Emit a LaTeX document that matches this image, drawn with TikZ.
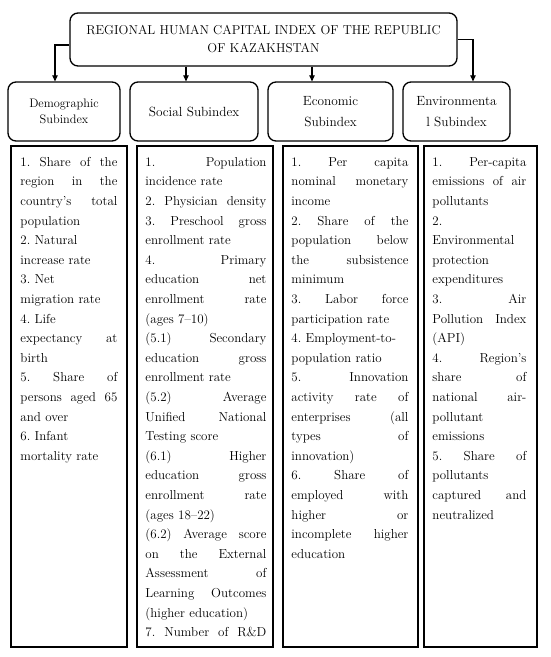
\documentclass[tikz,border=0pt]{standalone}
\usetikzlibrary{arrows.meta}
\setlength{\parindent}{0pt}
\frenchspacing
\newcommand{\jline}[1]{\makebox[\hsize][s]{\frenchspacing\spaceskip=0pt\xspaceskip=0pt\relax #1}\par}
\newcommand{\lline}[1]{#1\par}
\begin{document}
\begin{tikzpicture}[x=1pt,y=-1pt,
  rbox/.style={draw, line width=1.3pt, rounded corners=8pt, inner sep=0pt, align=center},
  cbox/.style={draw, line width=1.5pt, inner sep=0pt},
  arr/.style={line width=1.1pt, -{Triangle[length=6pt,width=5.5pt]}},
  body/.style={inner sep=0pt, anchor=north west, font=\fontsize{13}{19.6}\selectfont\frenchspacing},
  lab/.style={font=\fontsize{13.3}{21}\selectfont}
]
\useasboundingbox (0,0) rectangle (550,657);
\fill[white] (0,0) rectangle (550,657);

% top box
\node[rbox, minimum width=387pt, minimum height=53pt, font=\fontsize{12.9}{18}\selectfont] (top) at (263.5,39.5)
  {REGIONAL HUMAN CAPITAL INDEX OF THE REPUBLIC\\OF KAZAKHSTAN};

% subindex boxes
\node[rbox, minimum width=112pt, minimum height=59pt, font=\fontsize{12.3}{15.5}\selectfont] (b1) at (64,111.5) {Demographic\\Subindex};
\node[rbox, lab, minimum width=128pt, minimum height=59pt] (b2) at (194,111.5) {Social Subindex};
\node[rbox, lab, minimum width=125pt, minimum height=59pt] (b3) at (330.5,111.5) {Economic\\Subindex};
\node[rbox, lab, minimum width=107pt, minimum height=59pt] (b4) at (456.5,111.5) {Environmenta\\l Subindex};

% arrows
\coordinate (a1) at ([xshift=-9pt]b1.north);
\coordinate (a2) at ([xshift=-8pt]b2.north);
\coordinate (a3) at ([xshift=-18.5pt]b3.north);
\coordinate (a4) at ([xshift=16.5pt]b4.north);
\draw[arr] ([yshift=-5.5pt]top.west) -| (a1);
\draw[arr] (a2 |- top.south) -- (a2);
\draw[arr] (a3 |- top.south) -- (a3);
\draw[arr] ([yshift=0pt]top.east) -| (a4);

% content boxes
\node[cbox, minimum width=116pt, minimum height=501pt] (c1) at (69,396.5) {};
\node[cbox, minimum width=136pt, minimum height=501pt] (c2) at (205,396.5) {};
\node[cbox, minimum width=135pt, minimum height=501pt] (c3) at (350.5,396.5) {};
\node[cbox, minimum width=113pt, minimum height=501pt] (c4) at (480.5,396.5) {};

\node[body, text width=97pt] (t1) at ([xshift=10pt,yshift=-7.2pt]c1.north west) {%
\jline{\strut 1. Share of the}
\jline{region in the}
\jline{country’s total}
\lline{population}
\lline{2. Natural}
\lline{increase rate}
\lline{3. Net}
\lline{migration rate}
\lline{4. Life}
\jline{expectancy at}
\lline{birth}
\jline{5. Share of}
\jline{persons aged 65}
\lline{and over}
\lline{6. Infant}
\lline{mortality rate}};

\node[body, text width=121pt] (t2) at ([xshift=9pt,yshift=-7.2pt]c2.north west) {%
\jline{\strut 1. Population}
\lline{incidence rate}
\jline{2. Physician density}
\jline{3. Preschool gross}
\lline{enrollment rate}
\jline{4. Primary}
\jline{education net}
\jline{enrollment rate}
\lline{(ages 7–10)}
\jline{(5.1) Secondary}
\jline{education gross}
\lline{enrollment rate}
\jline{(5.2) Average}
\jline{Unified National}
\lline{Testing score}
\jline{(6.1) Higher}
\jline{education gross}
\jline{enrollment rate}
\lline{(ages 18–22)}
\jline{(6.2) Average score}
\jline{on the External}
\jline{Assessment of}
\jline{Learning Outcomes}
\lline{(higher education)}
\jline{7. Number of R\&D}};

\node[body, text width=117pt] (t3) at ([xshift=9pt,yshift=-7.2pt]c3.north west) {%
\jline{\strut 1. Per capita}
\jline{nominal monetary}
\lline{income}
\jline{2. Share of the}
\jline{population below}
\jline{the subsistence}
\lline{minimum}
\jline{3. Labor force}
\lline{participation rate}
\lline{4. Employment-to-}
\lline{population ratio}
\jline{5. Innovation}
\jline{activity rate of}
\jline{enterprises (all}
\jline{types of}
\lline{innovation)}
\jline{6. Share of}
\jline{employed with}
\jline{higher or}
\jline{incomplete higher}
\lline{education}};

\node[body, text width=94pt] (t4) at ([xshift=9pt,yshift=-7.2pt]c4.north west) {%
\jline{\strut 1. Per-capita}
\jline{emissions of air}
\lline{pollutants}
\lline{2.}
\lline{Environmental}
\lline{protection}
\lline{expenditures}
\jline{3. Air}
\jline{Pollution Index}
\lline{(API)}
\jline{4. Region’s}
\jline{share of}
\jline{national air-}
\lline{pollutant}
\lline{emissions}
\jline{5. Share of}
\lline{pollutants}
\jline{captured and}
\lline{neutralized}};
\end{tikzpicture}
\end{document}
